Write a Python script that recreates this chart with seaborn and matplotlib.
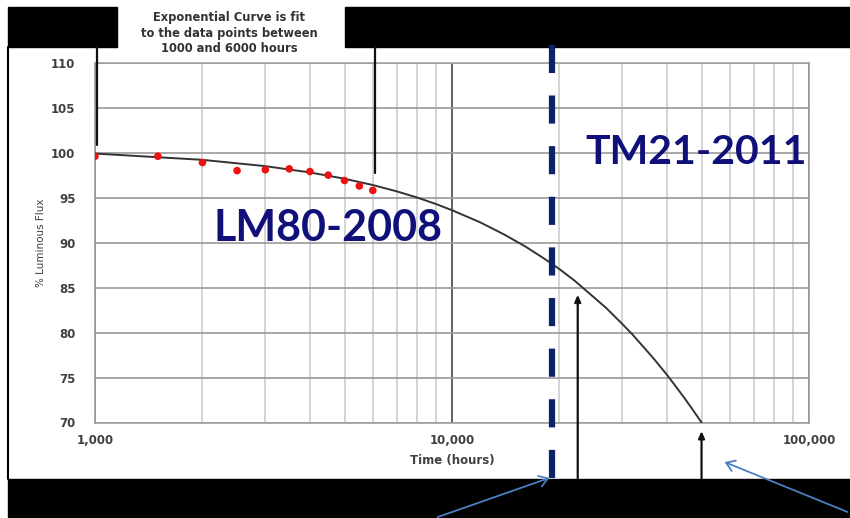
import matplotlib
matplotlib.use("Agg")
import matplotlib.pyplot as plt
from matplotlib.patches import Rectangle, FancyArrowPatch
from matplotlib.lines import Line2D
from matplotlib.ticker import FixedLocator, FuncFormatter
import pandas as pd
import seaborn as sns

# measured points (LM-80 test data)
hours = [1000, 1500, 2000, 2500, 3000, 3500, 4000, 4500, 5000, 5500, 6000]
flux = [99.6, 99.6, 98.9, 98.0, 98.1, 98.2, 97.9, 97.5, 96.9, 96.3, 95.8]

# exponential fit curve
fit_hours = [1000, 2000, 3000, 4000, 5000, 6000, 7000, 8000, 9000, 10000,
             12000, 14000, 16000, 18000, 20000, 22000, 25000, 27000, 30000,
             32000, 35000, 37000, 40000, 42000, 45000, 47000, 50000]
fit_flux = [99.9, 99.2, 98.5, 97.8, 97.1, 96.4, 95.7, 95.0, 94.3, 93.6,
            92.25, 90.9, 89.6, 88.3, 87.05, 85.8, 83.9, 82.75, 80.95,
            79.8, 78.05, 76.95, 75.3, 74.2, 72.6, 71.55, 70.0]

y_ticks = [70, 75, 80, 85, 90, 95, 100, 105, 110]
x_ticks = [1000, 10000, 100000]
tm21_limit = 19000
arrow_hours = [22500, 50000]

df_pts = pd.DataFrame({"hours": hours, "flux": flux})
df_fit = pd.DataFrame({"hours": fit_hours, "flux": fit_flux})

sns.set_style("white")
plt.rcParams["font.family"] = ["DejaVu Sans"]

W, H = 850, 518
fig = plt.figure(figsize=(8.5, 5.18), dpi=100)
ax = fig.add_axes([95 / W, 1 - 422.5 / H, 714 / W, 359.8 / H])


def px(x, y):
    return (x / W, 1 - y / H)


# black bands and frame
for x0, y0, x1, y1 in [(8, 7, 117, 47), (345, 7, 850, 47), (8, 479, 850, 518)]:
    fig.add_artist(Rectangle(px(x0, y1), (x1 - x0) / W, (y1 - y0) / H,
                             transform=fig.transFigure, color="black", zorder=-1))
fig.add_artist(Line2D([8 / W, 8 / W], [1 - 47 / H, 1 - 479 / H],
                      transform=fig.transFigure, color="black", lw=1.5, zorder=-1))

sns.lineplot(data=df_fit, x="hours", y="flux", ax=ax, color="#333333", lw=1.4, zorder=3)
sns.scatterplot(data=df_pts, x="hours", y="flux", ax=ax, color="#ee1111",
                s=30, edgecolor="none", zorder=4)

ax.set_xscale("log")
ax.set_xlim(1000, 100000)
ax.set_ylim(70, 110)

ax.yaxis.set_major_locator(FixedLocator(y_ticks))
ax.xaxis.set_major_locator(FixedLocator(x_ticks))
ax.xaxis.set_minor_locator(FixedLocator([m * d for d in (1000, 10000) for m in range(2, 10)]))
ax.xaxis.set_major_formatter(FuncFormatter(lambda v, p: f"{int(v):,}"))
ax.xaxis.set_minor_formatter(FuncFormatter(lambda v, p: ""))

ax.grid(axis="y", which="major", color="#9a9a9a", lw=1.2)
ax.grid(axis="x", which="minor", color="#d4d4d4", lw=1.4)
ax.grid(axis="x", which="major", color="#555555", lw=1.3)
for s in ax.spines.values():
    s.set_color("#a0a0a0")
    s.set_linewidth(1.2)

ax.tick_params(axis="y", which="major", direction="out", length=7, width=1,
               color="#999999", labelsize=8.5, labelcolor="#404040", pad=7)
ax.tick_params(axis="x", which="both", direction="out", length=3, width=1,
               color="#bbbbbb", labelsize=8.5, labelcolor="#404040", pad=5)
for lab in ax.get_xticklabels() + ax.get_yticklabels():
    lab.set_fontweight("bold")

ax.set_xlabel("Time (hours)", fontsize=8.5, fontweight="bold", color="#404040", labelpad=5)
ax.set_ylabel("% Luminous Flux", fontsize=7.5, color="#404040", labelpad=4)

# TM-21 projection limit
ax.axvline(tm21_limit, ymin=-0.154, ymax=1.108, clip_on=False, color="#0b2468",
           lw=4.5, dashes=(4.5, 3.6), zorder=6)

# black arrows up from the bottom band
xt = ax.get_xaxis_transform()
for hx, tip in zip(arrow_hours, [0.355, -0.024]):
    ax.annotate("", xy=(hx, tip), xycoords=xt, xytext=(hx, -0.155), textcoords=xt,
                annotation_clip=False,
                arrowprops=dict(arrowstyle="-|>,head_length=0.4,head_width=0.18",
                                color="#111111", lw=1.6, shrinkA=0, shrinkB=0), zorder=6)

# callout lines from the note box
for x, y1 in [(97, 145), (375, 173)]:
    fig.add_artist(Line2D([x / W, x / W], [1 - 47 / H, 1 - y1 / H],
                          transform=fig.transFigure, color="#111111", lw=1.6, zorder=5))

fig.text(229 / W, 1 - 33 / H,
         "Exponential Curve is fit\nto the data points between\n1000 and 6000 hours",
         ha="center", va="center", fontsize=8.3, fontweight="bold", color="#333333",
         linespacing=1.2)

# blue pointer arrows
for start, end in [((435, 518), (552, 477)), ((850, 513), (722, 461))]:
    fig.add_artist(FancyArrowPatch(px(*start), px(*end), transform=fig.transFigure,
                                   arrowstyle="->,head_length=6,head_width=4",
                                   color="#4a7fc1", lw=1.3, zorder=7))

fig.text(213 / W, 1 - 241 / H, "LM80-2008", ha="left", va="baseline",
         fontsize=31, fontweight="bold", color="#10107a", family=["Lato", "DejaVu Sans"])
fig.text(585 / W, 1 - 164 / H, "TM21-2011", ha="left", va="baseline",
         fontsize=29.5, fontweight="bold", color="#10107a", family=["Lato", "DejaVu Sans"])

fig.savefig("out.png", dpi=100)
